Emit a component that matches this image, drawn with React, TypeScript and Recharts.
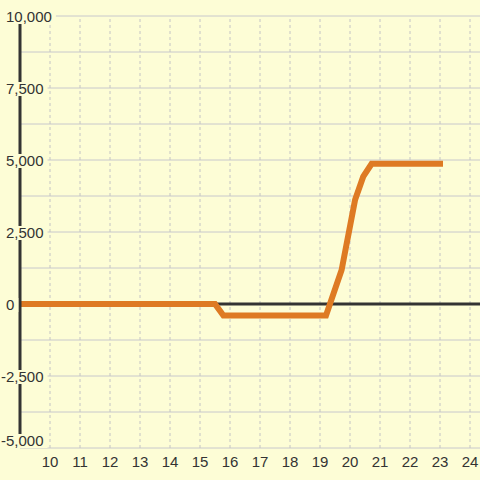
import { LineChart, Line, XAxis, YAxis, CartesianGrid, ReferenceLine } from 'recharts'

const hours = [9, 15.5, 15.78, 19.2, 19.72, 20.17, 20.44, 20.72, 23.1]
const balance = [0, 0, -400, -400, 1180, 3620, 4420, 4870, 4870]
const xTicks = [10, 11, 12, 13, 14, 15, 16, 17, 18, 19, 20, 21, 22, 23, 24]
const yTicks = [-5000, -3750, -2500, -1250, 0, 1250, 2500, 3750, 5000, 6250, 7500, 8750, 10000]

const data = hours.map((h, i) => ({ hour: h, value: balance[i] }))

const bg = '#FDFDD6'
const ink = '#333333'
const font = 'Liberation Sans, Arial'

const fmt = (v: number) => v.toLocaleString('en-US')

// y labels sit on a background box that hides the axis and grid behind them
const YTick = (props: any) => {
  const { y, payload } = props
  const v = payload.value as number
  if (v % 2500 !== 0) return <g />
  const label = fmt(v)
  let w = 0
  for (const ch of label) w += ch === ',' ? 4.2 : ch === '-' ? 5 : 8.34
  const left = v < 0 ? 1 : 6
  const cy = Math.min(y + 1, 441)
  return (
    <g>
      <rect x={left - 1} y={cy - 7} width={w + 5} height={14} fill={bg} />
      <text x={left} y={cy} dy="0.35em" textAnchor="start" fill={ink} style={{ fontFamily: font, fontSize: 15 }}>
        {label}
      </text>
    </g>
  )
}

export default function App() {
  return (
    <div style={{ position: 'absolute', left: 0, top: 0, width: 480, height: 480, background: bg }}>
      <LineChart width={480} height={480} data={data} margin={{ top: 16, right: 0, bottom: 0, left: 0 }}>
        <CartesianGrid horizontal vertical={false} stroke="#C8C8CC" />
        {xTicks.map((t) => (
          <ReferenceLine key={t} x={t} stroke="#C4C4C4" strokeDasharray="3 3" />
        ))}
        <XAxis
          dataKey="hour"
          type="number"
          domain={[9, 24.333]}
          ticks={xTicks}
          interval={0}
          axisLine={false}
          tickLine={false}
          height={32}
          tick={{ fill: ink, fontSize: 15, fontFamily: font }}
        />
        <YAxis
          type="number"
          domain={[-5000, 10000]}
          ticks={yTicks}
          interval={0}
          width={20}
          tickLine={false}
          axisLine={{ stroke: ink, strokeWidth: 3 }}
          tick={<YTick />}
        />
        <ReferenceLine y={0} stroke={ink} strokeWidth={3} />
        <Line
          type="linear"
          dataKey="value"
          stroke="#DE7A23"
          strokeWidth={6}
          dot={false}
          isAnimationActive={false}
        />
      </LineChart>
    </div>
  )
}
